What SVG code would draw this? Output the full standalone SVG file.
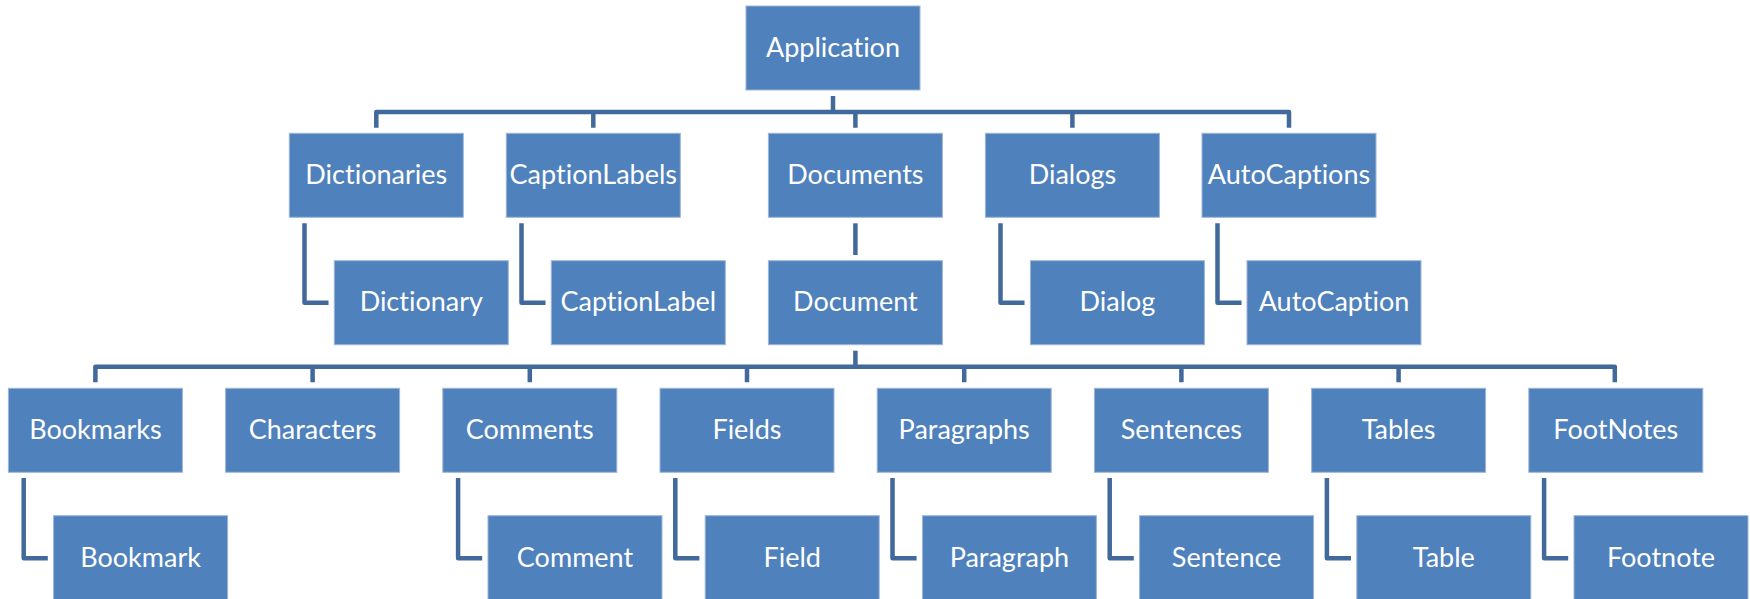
<svg xmlns="http://www.w3.org/2000/svg" width="1750" height="599" viewBox="0 0 1750 599">
<style>
.box{fill:#4F81BD;stroke:#9db6d8;stroke-width:1}
.lbl{font-family:Lato,"Liberation Sans",sans-serif;font-size:27px;fill:#ffffff;text-anchor:middle;font-variant-ligatures:none}
.con{fill:none;stroke:#41699c;stroke-width:4.5;stroke-linejoin:round;stroke-linecap:butt}
</style>
<rect width="1750" height="599" fill="#ffffff"/>
<g id="connectors">
<path class="con" d="M833 96V112"/>
<path class="con" d="M376.3 127.7V112H1289V127.7"/>
<path class="con" d="M593.3 112V127.7M855.4 112V127.7M1072.4 112V127.7"/>
<path class="con" d="M304.5 223.3V302.7H328.5"/>
<path class="con" d="M521.5 223.3V302.7H545.5"/>
<path class="con" d="M855.4 223.3V255"/>
<path class="con" d="M1000.5 223.3V302.7H1024.5"/>
<path class="con" d="M1217.5 223.3V302.7H1241.5"/>
<path class="con" d="M855.4 350.7V366.7"/>
<path class="con" d="M95.4 382.3V366.7H1614.8V382.3"/>
<path class="con" d="M312.6 366.7V382.3M529.8 366.7V382.3M747 366.7V382.3M964.2 366.7V382.3M1181.4 366.7V382.3M1398.6 366.7V382.3"/>
<path class="con" d="M23.7 477.9V558.3H47.8"/>
<path class="con" d="M458.1 477.9V558.3H482.2"/>
<path class="con" d="M675.3 477.9V558.3H699.4"/>
<path class="con" d="M892.5 477.9V558.3H916.6"/>
<path class="con" d="M1109.7 477.9V558.3H1133.8"/>
<path class="con" d="M1326.9 477.9V558.3H1351"/>
<path class="con" d="M1544.1 477.9V558.3H1568.2"/>
</g>
<g id="application"><rect class="box" x="746" y="6" width="174" height="84"/><text class="lbl" x="833" y="57">Application</text></g>
<g id="dictionaries"><rect class="box" x="289.3" y="133.3" width="174" height="84"/><text class="lbl" x="376.3" y="184">Dictionaries</text></g>
<g id="captionlabels"><rect class="box" x="506.3" y="133.3" width="174" height="84"/><text class="lbl" x="593.3" y="184">CaptionLabels</text></g>
<g id="documents"><rect class="box" x="768.4" y="133.3" width="174" height="84"/><text class="lbl" x="855.4" y="184">Documents</text></g>
<g id="dialogs"><rect class="box" x="985.4" y="133.3" width="174" height="84"/><text class="lbl" x="1072.4" y="184">Dialogs</text></g>
<g id="autocaptions"><rect class="box" x="1202" y="133.3" width="174" height="84"/><text class="lbl" x="1289" y="184">AutoCaptions</text></g>
<g id="dictionary"><rect class="box" x="334.3" y="260.7" width="174" height="84"/><text class="lbl" x="421.3" y="311.4">Dictionary</text></g>
<g id="captionlabel"><rect class="box" x="551.3" y="260.7" width="174" height="84"/><text class="lbl" x="638.3" y="311.4">CaptionLabel</text></g>
<g id="document"><rect class="box" x="768.4" y="260.7" width="174" height="84"/><text class="lbl" x="855.4" y="311.4">Document</text></g>
<g id="dialog"><rect class="box" x="1030.4" y="260.7" width="174" height="84"/><text class="lbl" x="1117.4" y="311.4">Dialog</text></g>
<g id="autocaption"><rect class="box" x="1247" y="260.7" width="174" height="84"/><text class="lbl" x="1334" y="311.4">AutoCaption</text></g>
<g id="bookmarks"><rect class="box" x="8.4" y="388.3" width="174" height="84"/><text class="lbl" x="95.4" y="439">Bookmarks</text></g>
<g id="characters"><rect class="box" x="225.6" y="388.3" width="174" height="84"/><text class="lbl" x="312.6" y="439">Characters</text></g>
<g id="comments"><rect class="box" x="442.8" y="388.3" width="174" height="84"/><text class="lbl" x="529.8" y="439">Comments</text></g>
<g id="fields"><rect class="box" x="660" y="388.3" width="174" height="84"/><text class="lbl" x="747" y="439">Fields</text></g>
<g id="paragraphs"><rect class="box" x="877.2" y="388.3" width="174" height="84"/><text class="lbl" x="964.2" y="439">Paragraphs</text></g>
<g id="sentences"><rect class="box" x="1094.4" y="388.3" width="174" height="84"/><text class="lbl" x="1181.4" y="439">Sentences</text></g>
<g id="tables"><rect class="box" x="1311.6" y="388.3" width="174" height="84"/><text class="lbl" x="1398.6" y="439">Tables</text></g>
<g id="footnotes"><rect class="box" x="1528.8" y="388.3" width="174" height="84"/><text class="lbl" x="1615.8" y="439">FootNotes</text></g>
<g id="bookmark"><rect class="box" x="53.6" y="515.7" width="174" height="84"/><text class="lbl" x="140.6" y="566.7">Bookmark</text></g>
<g id="comment"><rect class="box" x="488" y="515.7" width="174" height="84"/><text class="lbl" x="575" y="566.7">Comment</text></g>
<g id="field"><rect class="box" x="705.2" y="515.7" width="174" height="84"/><text class="lbl" x="792.2" y="566.7">Field</text></g>
<g id="paragraph"><rect class="box" x="922.4" y="515.7" width="174" height="84"/><text class="lbl" x="1009.4" y="566.7">Paragraph</text></g>
<g id="sentence"><rect class="box" x="1139.6" y="515.7" width="174" height="84"/><text class="lbl" x="1226.6" y="566.7">Sentence</text></g>
<g id="table"><rect class="box" x="1356.8" y="515.7" width="174" height="84"/><text class="lbl" x="1443.8" y="566.7">Table</text></g>
<g id="footnote"><rect class="box" x="1574" y="515.7" width="174" height="84"/><text class="lbl" x="1661" y="566.7">Footnote</text></g>
</svg>
